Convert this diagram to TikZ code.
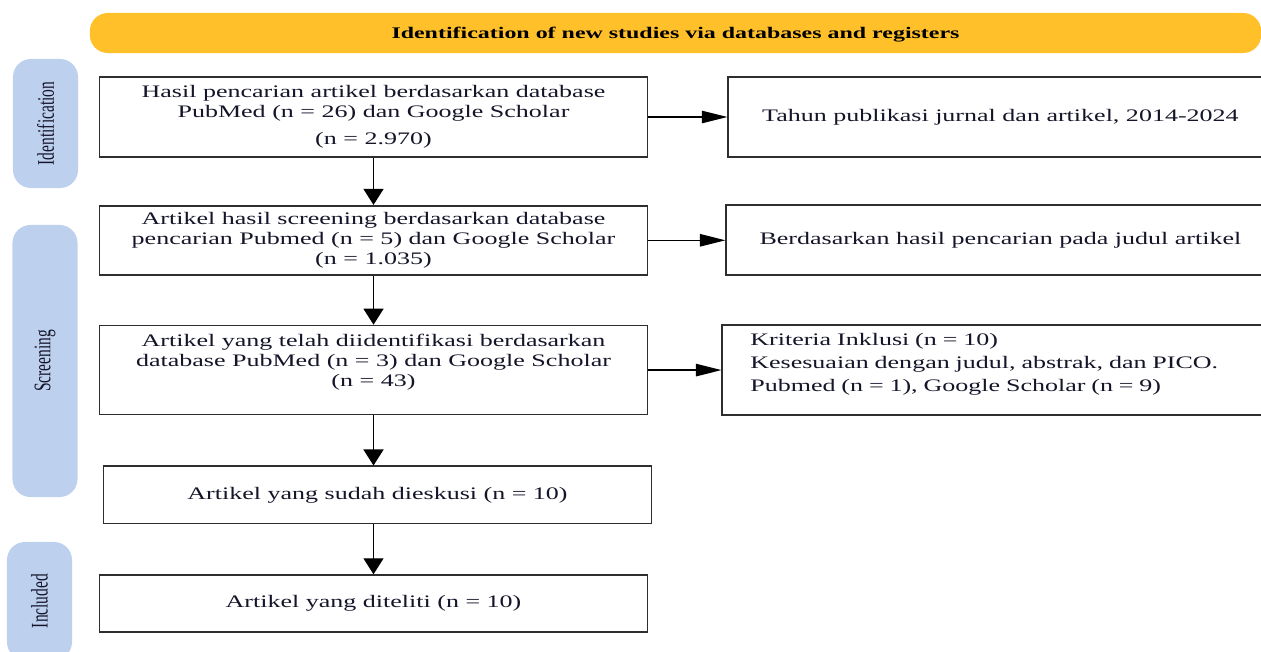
\documentclass[tikz,border=0pt]{standalone}
\usepackage{fontspec}
\setmainfont{Liberation Serif}[FakeStretch=1.48]
\newfontfamily\sidefont{Liberation Serif}
\usepackage{graphicx}
\usetikzlibrary{arrows.meta,positioning}
\definecolor{BannerGold}{HTML}{FFC02A}
\definecolor{SideBlue}{HTML}{BDD0EE}
\definecolor{EdgeGray}{HTML}{2E2E2E}
\definecolor{InkNavy}{HTML}{15152A}

\begin{document}
\begin{tikzpicture}[
  x=0.025cm,y=-0.025cm,
  box/.style={draw=EdgeGray,line width=1.25pt,fill=white,minimum width=13.7cm,align=center,text=InkNavy,font=\fontsize{12.5}{14.2}\selectfont,inner sep=2pt},
  sidebox/.style={fill=SideBlue,rounded corners=0.45cm,rotate=90,minimum height=1.625cm,inner sep=1pt,text=InkNavy,font=\sidefont\fontsize{11}{13}\selectfont},
  banner/.style={fill=BannerGold,rounded corners=0.45cm,minimum width=29.275cm,minimum height=1cm,text depth=0pt,text=black,font=\fontsize{11.5}{13}\selectfont\bfseries},
  varr/.style={-{Triangle[length=0.4cm,width=0.5cm]},line width=1pt,draw=black},
  harr/.style={-{Triangle[length=0.64cm,width=0.31cm]},line width=1pt,draw=black}
]
\useasboundingbox (0,0) rectangle (1261,651);
\clip (0,0) rectangle (1261,651);

% header and phase labels
\node[banner] (title) at (675.5,33) {Identification of new studies via databases and registers};
\node[sidebox,minimum width=3.225cm] (idlab) at (45.5,123.5) {\scalebox{1}[1.54]{Identification}};
\node[sidebox,minimum width=6.8cm] (scrlab) at (45,361) {\scalebox{1}[1.54]{Screening}};
\node[sidebox,minimum width=2.95cm] (inclab) at (39.5,601) {\scalebox{1}[1.54]{Included}};

% main column
\node[box,minimum height=2cm] (h1) at (373.5,117) {Hasil pencarian artikel berdasarkan database\\PubMed (n = 26) dan Google Scholar\\[5pt](n = 2.970)};
\node[box,minimum height=1.725cm,below=1.175cm of h1] (h2) {Artikel hasil screening berdasarkan database\\pencarian Pubmed (n = 5) dan Google Scholar\\(n = 1.035)};
\node[box,minimum height=2.225cm,below=1.225cm of h2] (h3) {Artikel yang telah diidentifikasi berdasarkan\\database PubMed (n = 3) dan Google Scholar\\(n = 43)\\\mbox{}};
\node[box,minimum height=1.425cm,below=1.25cm of h3,xshift=0.1cm] (h4) {Artikel yang sudah dieskusi (n = 10)};
\node[box,minimum height=1.425cm,below=1.25cm of h4,xshift=-0.1cm] (h5) {Artikel yang diteliti (n = 10)};

% side notes
\node[box,minimum width=13.6cm,minimum height=2cm,right=1.975cm of h1] (r1) {Tahun publikasi jurnal dan artikel, 2014-2024};
\node[box,minimum width=13.7cm,minimum height=1.75cm,right=1.925cm of h2] (r2) {Berdasarkan hasil pencarian pada judul artikel};
\node[box,minimum width=13.7cm,minimum height=2.25cm,align=left,text width=12.3cm,inner xsep=0.7cm,right=1.825cm of h3] (r3) {Kriteria Inklusi (n = 10)\\[2pt]Kesesuaian dengan judul, abstrak, dan PICO.\\[2pt]Pubmed (n = 1), Google Scholar (n = 9)\\[-3pt]\mbox{}};

\draw[varr] (h1.south) -- (h2.north);
\draw[varr] (h2.south) -- (h3.north);
\draw[varr] (h3.south) -- (h3.south |- h4.north);
\draw[varr] (h5.north |- h4.south) -- (h5.north);
\draw[harr] (h1.east) -- (r1.west);
\draw[harr] (h2.east) -- (r2.west);
\draw[harr] (h3.east) -- (r3.west);
\end{tikzpicture}
\end{document}
